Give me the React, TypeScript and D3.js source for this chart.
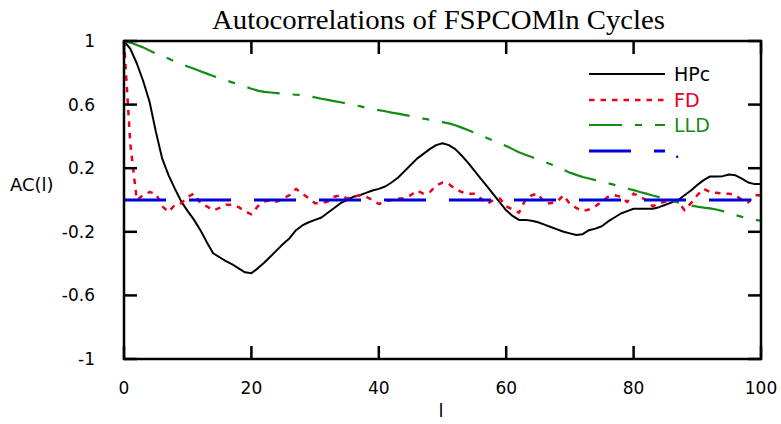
import React from "react";
import * as d3 from "d3";

const lags: number[] = d3.range(0, 101);

const hpc: number[] = [
  1.0, 0.95, 0.86, 0.75, 0.62, 0.43, 0.26, 0.155, 0.07, -0.01,
  -0.07, -0.125, -0.19, -0.265, -0.335, -0.36, -0.385, -0.405, -0.43, -0.455,
  -0.46, -0.43, -0.395, -0.355, -0.315, -0.275, -0.24, -0.19, -0.16, -0.14,
  -0.125, -0.11, -0.08, -0.05, -0.02, 0.0, 0.02, 0.03, 0.045, 0.06,
  0.07, 0.085, 0.11, 0.14, 0.18, 0.22, 0.26, 0.29, 0.32, 0.345,
  0.357, 0.345, 0.32, 0.28, 0.235, 0.185, 0.135, 0.085, 0.035, -0.015,
  -0.065, -0.1, -0.125, -0.125, -0.13, -0.14, -0.155, -0.17, -0.185, -0.2,
  -0.21, -0.22, -0.215, -0.19, -0.18, -0.165, -0.135, -0.11, -0.085, -0.07,
  -0.055, -0.055, -0.055, -0.055, -0.045, -0.03, -0.015, 0.0, 0.03, 0.06,
  0.095, 0.125, 0.148, 0.148, 0.15, 0.16, 0.155, 0.135, 0.11, 0.1,
  0.1,
];

const fd: number[] = [
  1.0, 0.35, 0.0, 0.03, 0.05, 0.04, -0.04, -0.075, -0.03, -0.02,
  0.02, 0.04, -0.02, -0.04, -0.065, -0.05, -0.03, -0.03, -0.045, -0.07,
  -0.09, -0.04, -0.01, 0.0, -0.01, 0.01, 0.03, 0.07, 0.04, 0.01,
  -0.02, -0.02, -0.01, 0.02, 0.03, 0.01, 0.02, 0.03, 0.02, 0.0,
  -0.025, -0.01, 0.0, 0.01, 0.01, 0.03, 0.06, 0.04, 0.05, 0.09,
  0.11, 0.1, 0.07, 0.05, 0.04, 0.04, 0.01, -0.025, 0.0, 0.01,
  -0.04, -0.06, -0.08, 0.0, 0.03, 0.04, -0.02, -0.02, -0.01, 0.03,
  -0.025, -0.05, -0.07, -0.06, -0.04, -0.01, 0.02, 0.03, 0.02, -0.013,
  0.04, 0.02, 0.0, -0.04, -0.02, -0.01, -0.01, -0.01, -0.065, -0.02,
  0.03, 0.07, 0.05, 0.045, 0.04, 0.04, 0.03, 0.0, -0.015, 0.03,
  0.03,
];

const lld: number[] = [
  1.0, 0.99, 0.975, 0.96, 0.94, 0.92, 0.905, 0.89, 0.87, 0.855,
  0.84, 0.825, 0.81, 0.795, 0.78, 0.765, 0.752, 0.74, 0.727, 0.713,
  0.7, 0.688, 0.68, 0.676, 0.672, 0.668, 0.665, 0.662, 0.66, 0.654,
  0.645, 0.637, 0.63, 0.622, 0.615, 0.607, 0.598, 0.59, 0.58, 0.572,
  0.565, 0.558, 0.55, 0.543, 0.535, 0.528, 0.52, 0.512, 0.505, 0.497,
  0.49, 0.482, 0.47, 0.455, 0.44, 0.423, 0.407, 0.39, 0.373, 0.357,
  0.34, 0.32, 0.3, 0.285, 0.27, 0.255, 0.24, 0.225, 0.21, 0.19,
  0.172, 0.158, 0.145, 0.135, 0.125, 0.115, 0.105, 0.095, 0.083, 0.072,
  0.062, 0.05, 0.04, 0.028, 0.018, 0.008, -0.005, -0.015, -0.025, -0.035,
  -0.042, -0.048, -0.053, -0.06, -0.07, -0.082, -0.095, -0.106, -0.115, -0.125,
  -0.13,
];

const zeroLine: number[] = [0, 0];
const zeroLags: number[] = [0, 100];

const yTicks: number[] = [1, 0.6, 0.2, -0.2, -0.6, -1];
const yTickLabels: string[] = ["1", "0.6", "0.2", "-0.2", "-0.6", "-1"];
const xTicks: number[] = [0, 20, 40, 60, 80, 100];

const seriesNames: string[] = ["HPc", "FD", "LLD", "."];
const seriesColors: string[] = ["#000000", "#e8001c", "#148c14", "#0000d8"];
const seriesDash: string[] = ["none", "5.5,6", "33,13,7,13", "42,23"];
const seriesWidth: number[] = [2, 2.5, 2.2, 3];

const W = 781;
const H = 424;
const left = 124;
const right = 761;
const top = 41;
const bottom = 359;

export default function App() {
  const x = d3.scaleLinear().domain([0, 100]).range([left, right]);
  const y = d3.scaleLinear().domain([-1, 1]).range([bottom, top]);
  const line = d3
    .line<[number, number]>()
    .x((d) => x(d[0]))
    .y((d) => y(d[1]));

  const series: [number, number][][] = [
    lags.map((l, i) => [l, hpc[i]] as [number, number]),
    lags.map((l, i) => [l, fd[i]] as [number, number]),
    lags.map((l, i) => [l, lld[i]] as [number, number]),
    zeroLags.map((l, i) => [l, zeroLine[i]] as [number, number]),
  ];

  const sans = "'DejaVu Sans', Verdana, sans-serif";
  const tickLen = 13;

  const legendY = [74, 100, 125, 151];

  return (
    <svg
      width={W}
      height={H}
      style={{ position: "absolute", left: 0, top: 0, background: "#fff" }}
    >
      <rect x={0} y={0} width={W} height={H} fill="#fff" />
      <text
        x={212}
        y={29}
        textLength={453}
        lengthAdjust="spacingAndGlyphs"
        fontFamily="'Liberation Serif', 'DejaVu Serif', serif"
        fontSize={27}
        fill="#000"
      >
        Autocorrelations of FSPCOMln Cycles
      </text>

      {series.map((s, i) => (
        <path
          key={i}
          d={line(s) || ""}
          fill="none"
          stroke={seriesColors[i]}
          strokeWidth={seriesWidth[i]}
          strokeDasharray={seriesDash[i]}
          strokeLinejoin="round"
        />
      ))}

      <rect
        x={left}
        y={top}
        width={right - left}
        height={bottom - top}
        fill="none"
        stroke="#000"
        strokeWidth={2.5}
      />
      {yTicks.map((t, i) => (
        <g key={"y" + t}>
          <line x1={left} x2={left + tickLen} y1={y(t)} y2={y(t)} stroke="#000" strokeWidth={2.5} />
          <line x1={right} x2={right - tickLen} y1={y(t)} y2={y(t)} stroke="#000" strokeWidth={2.5} />
          <text
            x={95}
            y={y(t)}
            dy="0.35em"
            textAnchor="end"
            fontFamily={sans}
            fontSize={17}
            fill="#000"
          >
            {yTickLabels[i]}
          </text>
        </g>
      ))}
      {xTicks.map((t) => (
        <g key={"x" + t}>
          <line x1={x(t)} x2={x(t)} y1={bottom} y2={bottom - tickLen} stroke="#000" strokeWidth={2.5} />
          <line x1={x(t)} x2={x(t)} y1={top} y2={top + tickLen} stroke="#000" strokeWidth={2.5} />
          <text
            x={x(t)}
            y={388}
            dy="0.35em"
            textAnchor="middle"
            fontFamily={sans}
            fontSize={17}
            fill="#000"
          >
            {t}
          </text>
        </g>
      ))}

      <text x={10} y={185} dy="0.35em" fontFamily={sans} fontSize={18} fill="#000">
        AC(l)
      </text>
      <text x={441} y={411} dy="0.35em" textAnchor="middle" fontFamily={sans} fontSize={18} fill="#000">
        l
      </text>

      {seriesNames.map((n, i) => (
        <g key={"leg" + i}>
          <line
            x1={589}
            x2={665}
            y1={legendY[i]}
            y2={legendY[i]}
            stroke={seriesColors[i]}
            strokeWidth={seriesWidth[i]}
            strokeDasharray={seriesDash[i]}
          />
          <text
            x={674}
            y={legendY[i]}
            dy="0.35em"
            fontFamily={sans}
            fontSize={19}
            fill={seriesColors[i]}
          >
            {n}
          </text>
        </g>
      ))}
    </svg>
  );
}
